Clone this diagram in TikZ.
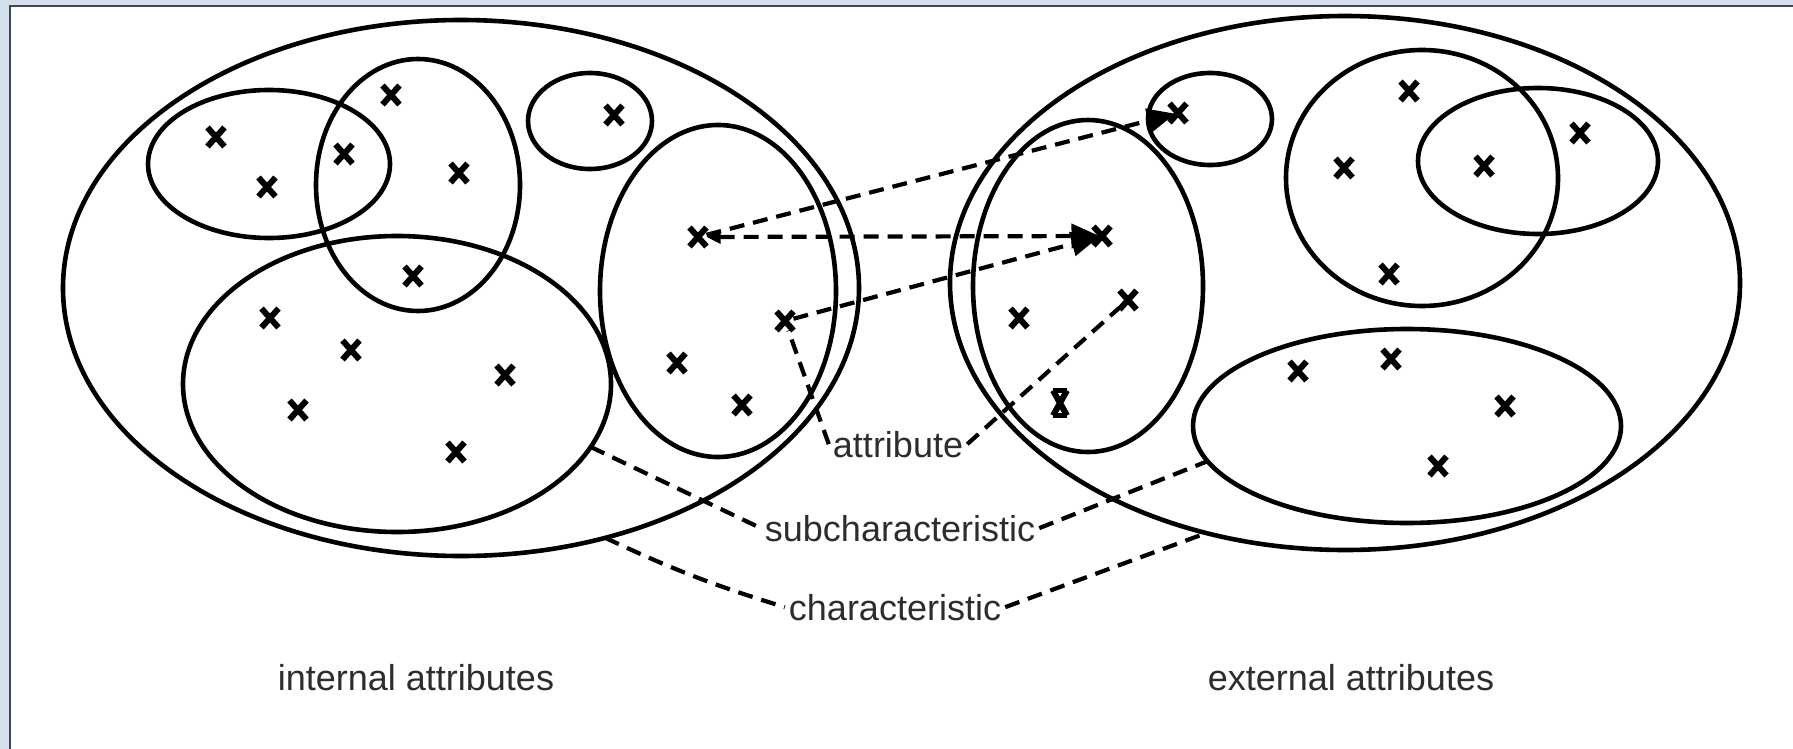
\documentclass[tikz,border=0pt]{standalone}
\usepackage{fontspec}
\setmainfont{Liberation Sans}
\usetikzlibrary{shapes.geometric,shapes.misc,arrows.meta}
\definecolor{framebg}{RGB}{211,223,235}
\definecolor{frameline}{RGB}{66,72,82}
\definecolor{txt}{RGB}{45,45,45}
\begin{document}
\begin{tikzpicture}[x=1pt,y=-1pt]
\tikzset{
  set/.style={ellipse, draw, line width=4.6pt, inner sep=0pt, outer sep=0pt},
  xm/.style={cross out, draw, line width=6pt, minimum width=17pt, minimum height=19pt, inner sep=0pt, outer sep=0pt},
  link/.style={line width=4.2pt, dash pattern=on 15pt off 9pt},
  lbl/.style={font=\fontsize{36}{43}\selectfont, text=txt, inner sep=4pt},
  bigtip/.style={-{Triangle[length=28pt,width=24pt]}, shorten >=-6pt},
}
\useasboundingbox (0,0) rectangle (1793,749);
% frame
\fill[framebg] (0,0) rectangle (1793,749);
\fill[white] (10,6) rectangle (1793,749);
\draw[frameline, line width=2pt] (10,749) -- (10,6) -- (1793,6);

% ---- left cluster (internal attributes)
\node[set, minimum width=796pt, minimum height=536pt] (LO) at (461,288) {};
\node[set, minimum width=242pt, minimum height=148pt] (A) at (269,164) {};
\node[set, minimum width=204pt, minimum height=252pt] (B) at (418,185) {};
\node[set, minimum width=124pt, minimum height=96pt] (C) at (590,121) {};
\node[set, minimum width=428pt, minimum height=296pt] (D) at (397,384) {};
\node[set, minimum width=236pt, minimum height=332pt] (E) at (718,291) {};

% ---- right cluster (external attributes)
\node[set, minimum width=790pt, minimum height=534pt] (RO) at (1345,283) {};
\node[set, minimum width=230pt, minimum height=332pt] (G) at (1088,286) {};
\node[set, minimum width=124pt, minimum height=92pt] (H) at (1210,119) {};
\node[set, minimum width=272pt, minimum height=256pt] (I) at (1422,178) {};
\node[set, minimum width=240pt, minimum height=146pt] (J) at (1538,161) {};
\node[set, minimum width=428pt, minimum height=194pt] (F) at (1407,426) {};

% ---- attribute marks, left
\node[xm] (xa1) at (216,137) {};
\node[xm] (xa2) at (267,187) {};
\node[xm] (xb1) at (344,154) {};
\node[xm] (xb2) at (391,95) {};
\node[xm] (xb3) at (459,173) {};
\node[xm] (xc)  at (614,115) {};
\node[xm] (xb4) at (413,276) {};
\node[xm] (xd1) at (270,318) {};
\node[xm] (xd2) at (351,350) {};
\node[xm] (xd3) at (505,375) {};
\node[xm] (xd4) at (298,410) {};
\node[xm] (xd5) at (456,452) {};
\node[xm] (xe1) at (698,237) {};
\node[xm] (xe2) at (785,321) {};
\node[xm] (xe3) at (677,363) {};
\node[xm] (xe4) at (742,405) {};

% ---- attribute marks, right
\node[xm] (xh)  at (1178,113) {};
\node[xm] (xg1) at (1102,236) {};
\node[xm] (xg2) at (1019,318) {};
\node[xm] (xg3) at (1128,300) {};
\node[xm, minimum width=14pt, minimum height=25pt] (xg4) at (1060,403) {};
\draw[line width=5pt] (xg4.north west) -- (xg4.north east) (xg4.south west) -- (xg4.south east);
\node[xm] (xi1) at (1409,91) {};
\node[xm] (xi2) at (1344,168) {};
\node[xm] (xj1) at (1484,166) {};
\node[xm] (xj2) at (1580,133) {};
\node[xm] (xi3) at (1389,274) {};
\node[xm] (xf1) at (1298,371) {};
\node[xm] (xf2) at (1391,359) {};
\node[xm] (xf3) at (1505,406) {};
\node[xm] (xf4) at (1438,466) {};

% ---- labels
\node[lbl, anchor=base] (attr) at (898,457) {attribute};
\node[lbl, anchor=base] (sub)  at (900,541) {subcharacteristic};
\node[lbl, anchor=base] (char) at (895,620) {characteristic};
\node[lbl, anchor=base] (int)  at (416,690) {internal attributes};
\node[lbl, anchor=base] (ext)  at (1351,690) {external attributes};

% ---- mapping arrows
\draw[link, {Triangle[length=14pt,width=13pt]}-{Triangle[length=28pt,width=24pt]}, shorten >=-6pt] (xe1) -- (xg1);
\draw[link, bigtip] (xe1) -- (xh);
\draw[link, bigtip] (xe2) -- (xg1);

% ---- label connectors
\draw[link] (attr.west) -- (xe2);
\draw[link] (attr.east) -- (xg3);
\draw[link] (D.-18) -- (sub.west);
\draw[link] (sub.east) -- (F.190);
\draw[link] (LO.-60.5) to[bend right=4] (char.west);
\draw[link] (char.east) -- (RO.-119);
\end{tikzpicture}
\end{document}
